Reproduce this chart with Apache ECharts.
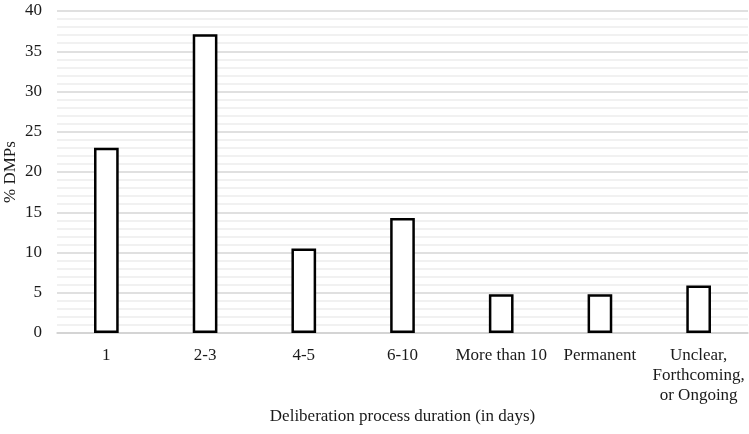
<!DOCTYPE html>
<html><head><meta charset="utf-8">
<script src="https://cdn.jsdelivr.net/npm/echarts@6/dist/echarts.min.js"></script>
<style>html,body{margin:0;padding:0;background:#fff}#c{width:749px;height:434px}</style>
</head><body><div id="c"></div>
<script>
const categories = ['1', '2-3', '4-5', '6-10', 'More than 10', 'Permanent', 'Unclear,\nForthcoming,\nor Ongoing'];
const values = [23.0, 37.1, 10.5, 14.3, 4.8, 4.8, 5.9];
const yTicks = [0, 5, 10, 15, 20, 25, 30, 35, 40];
const font = 'Liberation Serif';
const chart = echarts.init(document.getElementById('c'));
chart.setOption({
  animation: false,
  grid: {left: 57, right: 1, top: 11, bottom: 101, outerBoundsMode: 'none', containLabel: false},
  xAxis: {
    type: 'category', data: categories,
    name: 'Deliberation process duration (in days)', nameLocation: 'middle', nameGap: 75,
    nameMoveOverlap: false,
    nameTextStyle: {fontFamily: font, fontSize: 17, color: '#1a1a1a'},
    axisLine: {lineStyle: {color: '#d0d0d0', width: 1.5}},
    axisTick: {show: false},
    axisLabel: {fontFamily: font, fontSize: 17, color: '#1a1a1a', margin: 13, lineHeight: 20, interval: 0}
  },
  yAxis: {
    type: 'value', min: yTicks[0], max: yTicks[yTicks.length - 1], interval: 5,
    name: '% DMPs', nameLocation: 'middle', nameGap: 38, nameRotate: 90,
    nameMoveOverlap: false,
    nameTextStyle: {fontFamily: font, fontSize: 17, color: '#1a1a1a'},
    axisLine: {show: false}, axisTick: {show: false},
    axisLabel: {fontFamily: font, fontSize: 17, color: '#1a1a1a', margin: 15},
    splitLine: {lineStyle: {color: '#d6d6d6', width: 1.5}},
    minorTick: {show: false, splitNumber: 5},
    minorSplitLine: {show: true, lineStyle: {color: '#ededed', width: 1.5}}
  },
  series: [{
    type: 'bar', data: values, barWidth: '25%',
    itemStyle: {color: '#fff', borderColor: '#000', borderWidth: 2.5}
  }]
});
</script></body></html>
